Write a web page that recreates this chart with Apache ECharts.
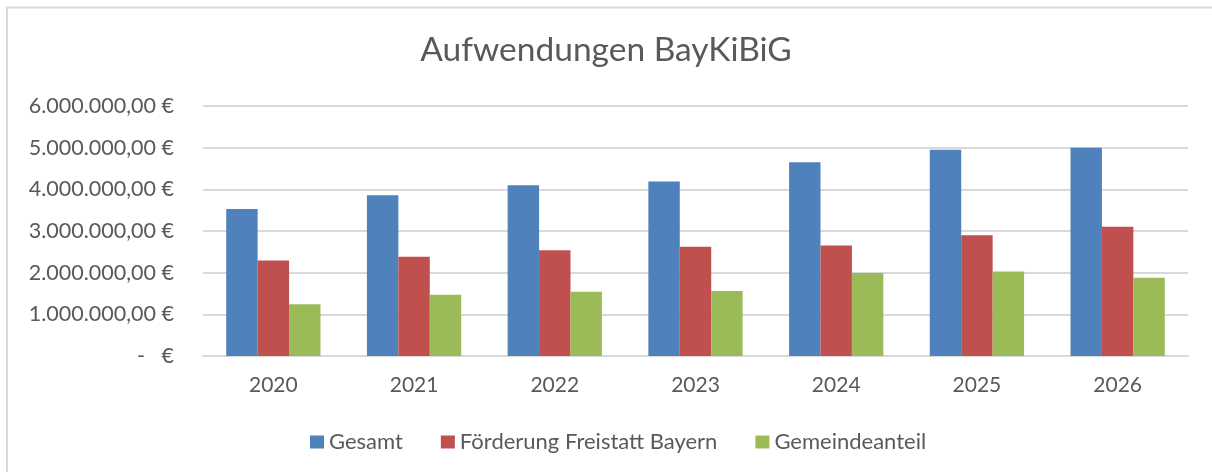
<!DOCTYPE html>
<html><head><meta charset="utf-8">
<script src="https://cdn.jsdelivr.net/npm/echarts@6/dist/echarts.min.js"></script>
<style>html,body{margin:0;padding:0;background:#fff}#c{width:1212px;height:472px}</style>
</head><body><div id="c"></div>
<script>
const categories = ['2020','2021','2022','2023','2024','2025','2026'];
const gesamt = [3530000, 3860000, 4100000, 4190000, 4650000, 4950000, 5000000];
const foerderung = [2290000, 2380000, 2540000, 2620000, 2650000, 2900000, 3100000];
const gemeinde = [1240000, 1470000, 1540000, 1560000, 1990000, 2030000, 1880000];
const seriesNames = ['Gesamt', 'Förderung Freistatt Bayern', 'Gemeindeanteil'];
const colors = ['#4f81bd', '#c0504d', '#9bbb59'];

const FONT = 'Lato';
function fmt(v){
  if (v === 0) return '-   €';
  const s = Math.round(v).toString().replace(/\B(?=(\d{3})+(?!\d))/g, '.');
  return s + ',00 €';
}
const chart = echarts.init(document.getElementById('c'));
const data = [gesamt, foerderung, gemeinde];
chart.setOption({
  animation: false,
  color: colors,
  textStyle: { fontFamily: FONT },
  title: {
    text: 'Aufwendungen BayKiBiG',
    left: 'center', top: 28,
    textStyle: { fontFamily: FONT, fontSize: 33.5, fontWeight: 'normal', color: '#595959' }
  },
  graphic: [
    { type: 'polyline', shape: { points: [[7, 472], [7, 7.5], [1212, 7.5]] },
      style: { stroke: '#d9d9d9', lineWidth: 2, fill: null } }
  ],
  legend: {
    bottom: 14, left: 305,
    itemWidth: 14, itemHeight: 13, itemGap: 38,
    icon: 'rect',
    textStyle: { fontFamily: FONT, fontSize: 22, color: '#595959' },
    data: seriesNames
  },
  grid: { left: 203, right: 24, top: 106, bottom: 116, containLabel: false },
  xAxis: {
    type: 'category', data: categories,
    axisLine: { lineStyle: { color: '#d9d9d9', width: 2 } },
    axisTick: { show: false },
    axisLabel: { fontFamily: FONT, fontSize: 21, color: '#595959', margin: 19 }
  },
  yAxis: {
    type: 'value', min: 0, max: 6000000, interval: 1000000,
    axisLine: { show: false }, axisTick: { show: false },
    splitLine: { lineStyle: { color: '#d9d9d9', width: 2 } },
    axisLabel: { fontFamily: FONT, fontSize: 21.5, color: '#595959', margin: 29, formatter: fmt }
  },
  series: seriesNames.map((n, i) => ({
    name: n, type: 'bar', data: data[i],
    barGap: '0%', barCategoryGap: '33%',
    itemStyle: { color: colors[i] }
  }))
});
</script></body></html>
